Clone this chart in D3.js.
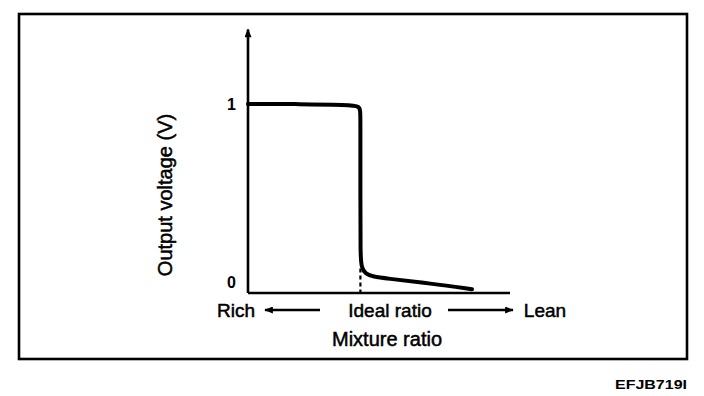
<!DOCTYPE html>
<html>
<head>
<meta charset="utf-8">
<script src="https://cdn.jsdelivr.net/npm/d3@7"></script>
<style>
  body { margin: 0; background: #fff; }
  text { font-family: "Liberation Sans", Arial, sans-serif; fill: #000; }
</style>
</head>
<body>
<svg id="chart" width="704" height="396"></svg>
<script>
// mixture ratio (arbitrary units, 0 = rich end of axis, 100 = lean end)
var mixture = [0, 20, 38, 42.9, 42.9, 42.9, 42.9, 43.3, 44.8, 48, 52, 70, 85.5];
// output voltage of the sensor (V)
var voltage = [1, 1, 0.995, 0.99, 0.95, 0.5, 0.2, 0.135, 0.1, 0.086, 0.078, 0.05, 0.02];
var idealRatio = 42.9;
var yTicks = [0, 1];
var yAxisTop = 1.4;
var xLabels = ["Rich", "Ideal ratio", "Lean"];

var svg = d3.select("#chart");

// frame round the whole figure
svg.append("rect")
    .attr("x", 19).attr("y", 14)
    .attr("width", 668).attr("height", 345)
    .attr("fill", "none")
    .attr("stroke", "#000")
    .attr("stroke-width", 2.6);

var x = d3.scaleLinear().domain([0, 100]).range([248, 510]);
var y = d3.scaleLinear().domain([0, 1]).range([293, 104]);

// arrow heads
var defs = svg.append("defs");
defs.append("marker")
    .attr("id", "head")
    .attr("viewBox", "0 0 10 8")
    .attr("refX", 9).attr("refY", 4)
    .attr("markerWidth", 10).attr("markerHeight", 7)
    .attr("markerUnits", "userSpaceOnUse")
    .attr("orient", "auto")
  .append("path")
    .attr("d", "M0,0 L10,4 L0,8 Z")
    .attr("fill", "#000");

// y axis with arrow
svg.append("line")
    .attr("x1", x(0)).attr("y1", y(0))
    .attr("x2", x(0)).attr("y2", y(yAxisTop) + 1)
    .attr("stroke", "#000")
    .attr("stroke-width", 2.6)
    .attr("marker-end", "url(#head)");

// x axis
svg.append("line")
    .attr("x1", x(0)).attr("y1", y(0))
    .attr("x2", x(100)).attr("y2", y(0))
    .attr("stroke", "#000")
    .attr("stroke-width", 2.6);

// tick labels 0 and 1
var yAxis = svg.append("g")
    .attr("transform", "translate(" + x(0) + ",0)")
    .call(d3.axisLeft(y).tickValues(yTicks).tickSize(0).tickPadding(12).tickFormat(d3.format("d")));
yAxis.select(".domain").remove();
yAxis.selectAll("text")
    .attr("font-family", "Liberation Sans, Arial, sans-serif")
    .attr("font-size", 16)
    .attr("font-weight", "bold")
    .attr("dy", function(d) { return d === 0 ? "-0.35em" : "0.32em"; });

// dashed line at the ideal ratio
svg.append("line")
    .attr("x1", x(idealRatio)).attr("y1", y(0.13))
    .attr("x2", x(idealRatio)).attr("y2", y(0))
    .attr("stroke", "#000")
    .attr("stroke-width", 2.2)
    .attr("stroke-dasharray", "4,3");

// the sensor curve
var line = d3.line()
    .x(function(d, i) { return x(mixture[i]); })
    .y(function(d) { return y(d); })
    .curve(d3.curveBasis);

svg.append("path")
    .datum(voltage)
    .attr("d", line)
    .attr("fill", "none")
    .attr("stroke", "#000")
    .attr("stroke-width", 4)
    .attr("stroke-linejoin", "round")
    .attr("stroke-linecap", "round");

// y axis title
svg.append("text")
    .attr("transform", "translate(172,195) rotate(-90)")
    .attr("text-anchor", "middle")
    .attr("font-size", 20)
    .attr("stroke", "#000").attr("stroke-width", 0.5)
    .text("Output voltage (V)");

// labels under the x axis
var labelX = [236, 390, 545];
svg.selectAll(".xlab")
    .data(xLabels)
    .enter().append("text")
    .attr("class", "xlab")
    .attr("x", function(d, i) { return labelX[i]; })
    .attr("y", 317)
    .attr("text-anchor", "middle")
    .attr("font-size", 19)
    .attr("stroke", "#000").attr("stroke-width", 0.5)
    .text(function(d) { return d; });

// arrows Rich <--  --> Lean
svg.append("line")
    .attr("x1", 320).attr("y1", 310)
    .attr("x2", 265).attr("y2", 310)
    .attr("stroke", "#000").attr("stroke-width", 2.6)
    .attr("marker-end", "url(#head)");
svg.append("line")
    .attr("x1", 448).attr("y1", 310)
    .attr("x2", 513).attr("y2", 310)
    .attr("stroke", "#000").attr("stroke-width", 2.6)
    .attr("marker-end", "url(#head)");

// x axis title
svg.append("text")
    .attr("x", 387).attr("y", 346)
    .attr("text-anchor", "middle")
    .attr("font-size", 20)
    .attr("stroke", "#000").attr("stroke-width", 0.5)
    .text("Mixture ratio");

// figure code
svg.append("text")
    .attr("x", 687).attr("y", 389)
    .attr("text-anchor", "end")
    .attr("font-size", 12)
    .attr("font-weight", "bold")
    .attr("textLength", 72)
    .attr("lengthAdjust", "spacingAndGlyphs")
    .text("EFJB719I");
</script>
</body>
</html>
